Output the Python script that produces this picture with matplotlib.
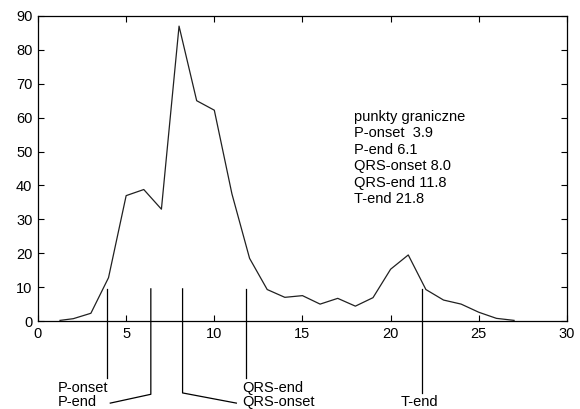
import matplotlib.pyplot as plt
import numpy as np

plt.rcParams['font.family'] = ['Liberation Sans', 'DejaVu Sans']

# sygnał
x = [1.25, 2, 3, 4, 5, 6, 7, 8, 9, 10, 11, 12, 13, 14, 15, 16, 17, 18, 19, 20,
     21, 22, 23, 24, 25, 26, 27]
y = [0.2, 0.7, 2.3, 12.8, 37, 38.8, 33, 87, 65, 62.2, 37.5, 18.5, 9.3, 7.0,
     7.5, 5.0, 6.7, 4.4, 6.9, 15.3, 19.5, 9.3, 6.2, 5.0, 2.6, 0.8, 0.2]

# znaczniki punktów granicznych
names = ["P-onset", "P-end", "QRS-onset", "QRS-end", "T-end"]
mark_x = [3.9, 6.4, 8.2, 11.8, 21.8]
values = [3.9, 6.1, 8.0, 11.8, 21.8]
mark_top = 9.5

fig = plt.figure(figsize=(5.8, 4.09), dpi=100)
ax = fig.add_axes([0.0655, 0.215, 0.912, 0.746])

ax.plot(x, y, color='#202020', lw=0.9)
ax.set_xlim(0, 30)
ax.set_ylim(0, 90)
ax.set_xticks(np.arange(0, 31, 5))
ax.set_yticks(np.arange(0, 91, 10))
ax.tick_params(direction='in', top=True, right=True, length=4, labelsize=10.5,
               width=0.8, pad=4)
for s in ax.spines.values():
    s.set_linewidth(0.9)

# linie znaczników (wychodzą pod oś)
k = dict(color='black', lw=0.9, clip_on=False)
ax.plot([mark_x[0]] * 2, [mark_top, -16.8], **k)
ax.plot([mark_x[3]] * 2, [mark_top, -16.8], **k)
ax.plot([mark_x[4]] * 2, [mark_top, -21.2], **k)
ax.plot([mark_x[1], mark_x[1], 4.1], [mark_top, -21.6, -24.2], **k)
ax.plot([mark_x[2], mark_x[2], 11.25], [mark_top, -21.2, -24.2], **k)

t = dict(fontsize=10.5, va='center', clip_on=False)
ax.text(1.1, -19.8, names[0], **t)
ax.text(1.1, -23.9, names[1], **t)
ax.text(11.6, -19.8, names[3], **t)
ax.text(11.6, -23.9, names[2], **t)
ax.text(21.65, -23.9, names[4], ha='center', **t)

lines = ["punkty graniczne", f"P-onset  {values[0]:.1f}", f"P-end {values[1]:.1f}",
         f"QRS-onset {values[2]:.1f}", f"QRS-end {values[3]:.1f}", f"T-end {values[4]:.1f}"]
for i, s in enumerate(lines):
    ax.text(17.9, 60.3 - i * 4.86, s, fontsize=10.5, va='center')

fig.savefig("out.png", dpi=100)
